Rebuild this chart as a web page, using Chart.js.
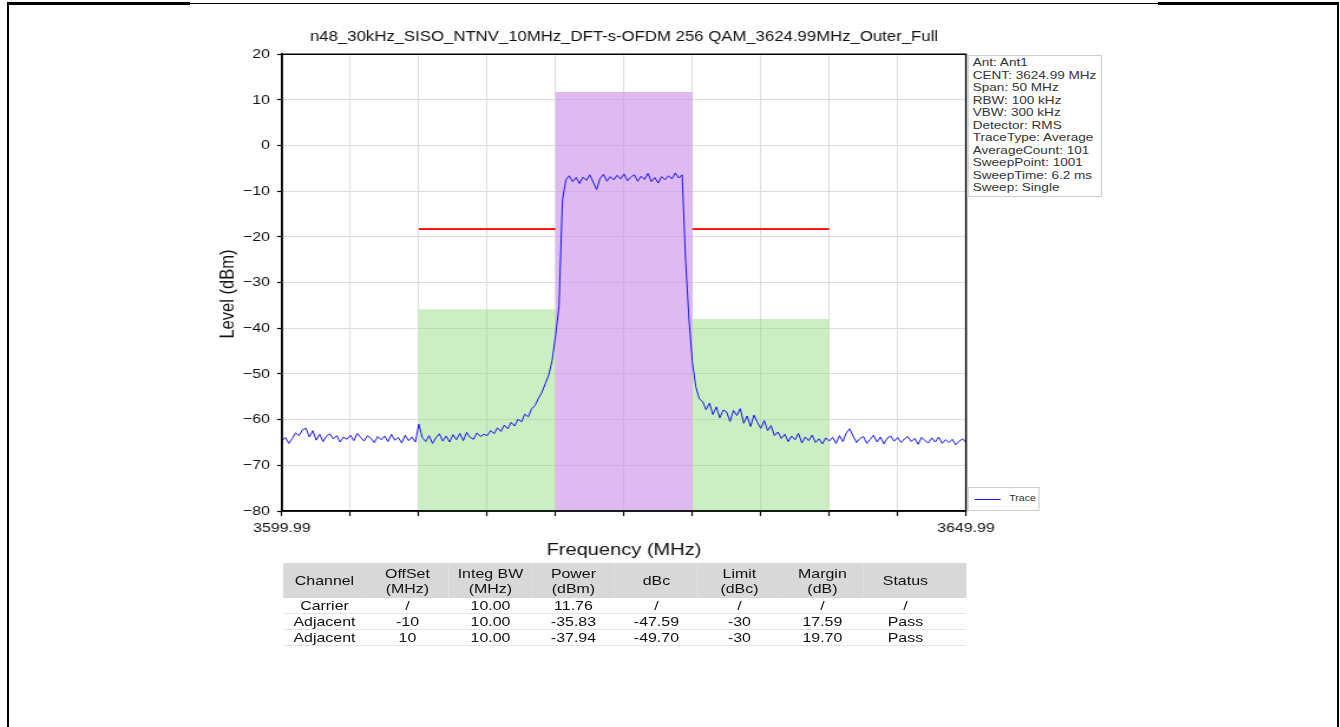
<!DOCTYPE html>
<html>
<head>
<meta charset="utf-8">
<script src="https://cdn.jsdelivr.net/npm/chart.js@4.4.1/dist/chart.umd.min.js"></script>
<style>
  html, body { margin: 0; padding: 0; background: #fff; }
  body { width: 1340px; height: 727px; position: relative; overflow: hidden; font-family: "Liberation Sans", Arial, sans-serif; }
  #wrap { position: absolute; left: 0; top: 0; height: 727px; transform-origin: 0 0; }
  #c { position: absolute; left: 0; top: 0; }
  .frame { position: absolute; background: #000; }
  #info { position: absolute; top: 55px; height: 142px; border: 1px solid #cfcfcf; background: #fff; box-sizing: border-box;
          font-size: 11.5px; line-height: 12.5px; color: #333; padding-left: 3px; white-space: pre; }
  #legend { position: absolute; top: 487px; height: 24px; border: 1px solid #cfcfcf; background: #fff; box-sizing: border-box; }
  #legend .ln { position: absolute; top: 11px; height: 1px; background: #1515f0; }
  #legend .tx { position: absolute; top: 5px; font-size: 9px; color: #333; }
  #tbl { position: absolute; top: 563px; border-collapse: collapse; table-layout: fixed; font-size: 13.5px; color: #111; }
  #tbl th { background: #d8d8d8; font-weight: normal; height: 35px; line-height: 15px; padding: 0; white-space: pre-line; }
  #tbl td { height: 15px; line-height: 15px; padding: 0; text-align: center; border-bottom: 1px solid #e6e6e6; }
</style>
</head>
<body>
<div id="wrap">
  <canvas id="c"></canvas>
  <div id="info"></div>
  <div id="legend"><div class="ln"></div><div class="tx">Trace</div></div>
  <table id="tbl"><thead><tr></tr></thead><tbody></tbody></table>
</div>
<div class="frame" style="left:7px;top:2px;width:2px;height:725px"></div>
<div class="frame" style="left:7px;top:2px;width:183px;height:3px"></div>
<div class="frame" style="left:190px;top:3px;width:968px;height:1px"></div>
<div class="frame" style="left:1158px;top:2px;width:181px;height:3px"></div>
<div class="frame" style="left:1337px;top:2px;width:2px;height:725px"></div>
<script>
// measured trace, one point every 0.25 MHz from 3599.99 MHz
const traceStartMHz = 3599.99;
const traceStepMHz = 0.25;
const traceLevel = [
  -64.6, -63.9, -65.2, -64.1, -62.9, -63.5, -62.2, -61.9, -63.8, -62.4,
  -64.5, -63.2, -64.8, -63.6, -63.1, -64.2, -63.5, -64.9, -63.8, -64.3,
  -63.4, -64.6, -63.0, -63.9, -64.7, -63.5, -64.1, -65.0, -63.7, -64.4,
  -63.6, -64.8, -63.2, -64.5, -63.9, -65.1, -63.4, -64.6, -63.8, -64.9,
  -61.0, -63.9, -64.8, -63.5, -65.2, -64.0, -63.1, -64.7, -63.6, -64.9,
  -63.3, -64.4, -63.0, -64.6, -62.8, -63.9, -64.3, -62.9, -63.7, -63.2,
  -63.5, -62.4, -63.1, -61.8, -62.6, -61.2, -62.0, -60.6, -61.4, -59.9,
  -60.5, -58.8, -59.4, -57.6, -56.9, -55.3, -54.0, -52.1, -50.2, -47.0,
  -41.5, -35.0, -12.0, -7.5, -6.6, -7.9, -7.0, -8.3, -6.9, -7.6,
  -6.4, -8.0, -9.6, -7.2, -6.3, -7.8, -6.8, -7.5, -6.5, -7.3,
  -6.2, -7.7, -6.9, -6.4, -7.8, -6.7, -7.4, -6.1, -7.9, -7.0,
  -8.2, -6.8, -7.5, -6.6, -7.3, -6.0, -7.1, -6.4, -25.0, -38.0,
  -47.5, -52.8, -55.4, -56.1, -57.8, -56.4, -58.9, -57.2, -59.6, -57.9,
  -58.3, -60.4, -58.0, -59.1, -57.6, -60.8, -59.2, -61.5, -59.0, -60.6,
  -61.9, -60.2, -62.4, -61.3, -63.5, -62.7, -64.1, -63.2, -64.8, -63.6,
  -64.4, -63.0, -65.1, -63.8, -64.6, -63.4, -65.0, -64.2, -65.3, -64.0,
  -64.7, -63.9, -65.2, -63.5, -64.8, -62.9, -62.0, -63.6, -65.0, -64.1,
  -63.7, -65.2, -64.3, -63.4, -64.9, -63.8, -65.3, -64.0, -63.6, -64.7,
  -63.9, -65.0, -64.2, -63.7, -64.8, -64.1, -65.4, -63.9, -64.6, -65.1,
  -64.0, -64.9, -63.8, -65.2, -64.4, -65.0, -64.3, -65.5, -64.7, -64.2, -65.0
];

// channel power table
const centerMHz = 3624.99;
const spanMHz = 50;
const channelNames = ['Carrier', 'Adjacent', 'Adjacent'];
const channelOffsetMHz = [0, -10, 10];
const channelBwMHz = [10, 10, 10];
const channelPowerDbm = [11.76, -35.83, -37.94];
const channelDbc = [null, -47.59, -49.70];
const channelLimitDbc = [null, -30, -30];
const channelMarginDb = [null, 17.59, 19.70];
const channelStatus = ['/', 'Pass', 'Pass'];

const tableHeaders = ['Channel', 'OffSet\n(MHz)', 'Integ BW\n(MHz)', 'Power\n(dBm)', 'dBc', 'Limit\n(dBc)', 'Margin\n(dB)', 'Status'];
const infoLines = ['Ant: Ant1', 'CENT: 3624.99 MHz', 'Span: 50 MHz', 'RBW: 100 kHz', 'VBW: 300 kHz', 'Detector: RMS',
  'TraceType: Average', 'AverageCount: 101', 'SweepPoint: 1001', 'SweepTime: 6.2 ms', 'Sweep: Single'];
const xTickValues = [3599.99, 3604.99, 3609.99, 3614.99, 3619.99, 3624.99, 3629.99, 3634.99, 3639.99, 3644.99, 3649.99];
const xTickLabels = ['3599.99', '', '', '', '', '', '', '', '', '', '3649.99'];
const yTickValues = [20, 10, 0, -10, -20, -30, -40, -50, -60, -70, -80];

// the reference image is stretched sideways; draw narrow and stretch the same way
const S = 1.18;
const W = Math.round(1340 / S);
const u = px => px / S;

const wrap = document.getElementById('wrap');
wrap.style.width = W + 'px';
wrap.style.transform = 'scaleX(' + S + ')';
const canvas = document.getElementById('c');
canvas.width = W;
canvas.height = 727;

// info + legend boxes
const info = document.getElementById('info');
info.textContent = infoLines.join('\n');
info.style.left = u(968) + 'px';
info.style.width = u(134) + 'px';
const legend = document.getElementById('legend');
legend.style.left = u(968) + 'px';
legend.style.width = u(72) + 'px';
legend.querySelector('.ln').style.left = u(5) + 'px';
legend.querySelector('.ln').style.width = u(27) + 'px';
legend.querySelector('.tx').style.left = u(40) + 'px';

// table
const tbl = document.getElementById('tbl');
tbl.style.left = u(283) + 'px';
const colW = u(83);
const lastPad = u(19);
const headRow = tbl.querySelector('thead tr');
tableHeaders.forEach((h, i) => {
  const th = document.createElement('th');
  th.textContent = h;
  th.style.width = colW + 'px';
  if (i === tableHeaders.length - 1) th.style.paddingRight = lastPad + 'px';
  headRow.appendChild(th);
});
const fmt = v => v === null ? '/' : v.toFixed(2);
channelNames.forEach((name, i) => {
  const cells = [
    name,
    i === 0 ? '/' : String(channelOffsetMHz[i]),
    channelBwMHz[i].toFixed(2),
    channelPowerDbm[i].toFixed(2),
    fmt(channelDbc[i]),
    channelLimitDbc[i] === null ? '/' : String(channelLimitDbc[i]),
    fmt(channelMarginDb[i]),
    channelStatus[i]
  ];
  const tr = document.createElement('tr');
  cells.forEach((c, j) => {
    const td = document.createElement('td');
    td.textContent = c;
    if (j === cells.length - 1) td.style.paddingRight = lastPad + 'px';
    tr.appendChild(td);
  });
  tbl.querySelector('tbody').appendChild(tr);
});

// datasets
const tracePoints = traceLevel.map((y, i) => ({ x: traceStartMHz + i * traceStepMHz, y: y }));
const carrierPower = channelPowerDbm[0];
const limitPoints = [];
const barSets = [];
channelNames.forEach((name, i) => {
  const lo = centerMHz + channelOffsetMHz[i] - channelBwMHz[i] / 2;
  const hi = centerMHz + channelOffsetMHz[i] + channelBwMHz[i] / 2;
  if (channelLimitDbc[i] !== null) {
    const lim = carrierPower + channelLimitDbc[i];
    limitPoints.push({ x: lo, y: lim }, { x: hi, y: lim }, { x: hi, y: null });
  }
  barSets.push({
    label: name + ' ' + i,
    data: [{ x: lo, y: channelPowerDbm[i] }, { x: hi, y: channelPowerDbm[i] }],
    borderWidth: 0,
    pointRadius: 0,
    fill: 'start',
    backgroundColor: i === 0 ? 'rgba(200,140,230,0.6)' : 'rgba(140,220,120,0.45)'
  });
});

const FONT = "'Liberation Sans', Arial, sans-serif";

const boxPlugin = {
  id: 'box',
  afterDatasetsDraw(chart) {
    const { ctx, chartArea: a } = chart;
    ctx.save();
    ctx.strokeStyle = '#000';
    ctx.lineWidth = 1.5;
    ctx.strokeRect(a.left, a.top, a.right - a.left, a.bottom - a.top);
    ctx.restore();
  }
};

new Chart(canvas, {
  type: 'line',
  data: {
    datasets: [
      { label: 'Trace', data: tracePoints, borderColor: '#1515f0', borderWidth: 1, pointRadius: 0, tension: 0, fill: false },
      { label: 'Limit', data: limitPoints, borderColor: '#ff1a1a', borderWidth: 2, pointRadius: 0, spanGaps: false, fill: false },
      ...barSets
    ]
  },
  options: {
    responsive: false,
    animation: false,
    events: [],
    layout: { padding: { left: u(200), right: W - u(966), top: 0, bottom: 727 - 511 - 52 } },
    plugins: {
      legend: { display: false },
      tooltip: { enabled: false },
      title: {
        display: true,
        fullSize: false,
        text: 'n48_30kHz_SISO_NTNV_10MHz_DFT-s-OFDM 256 QAM_3624.99MHz_Outer_Full',
        color: '#111',
        font: { family: FONT, size: 14.2, weight: 'normal' },
        padding: { top: 29, bottom: 8.2 }
      }
    },
    scales: {
      x: {
        type: 'linear',
        min: traceStartMHz,
        max: traceStartMHz + spanMHz,
        afterBuildTicks: axis => { axis.ticks = xTickValues.map(v => ({ value: v })); },
        afterFit: axis => { axis.height = 52; },
        ticks: {
          autoSkip: false,
          maxRotation: 0,
          padding: 4,
          color: '#111',
          font: { family: FONT, size: 13.5 },
          callback: (v, i) => xTickLabels[i]
        },
        grid: { color: '#dcdcdc', lineWidth: 1, tickColor: '#000', tickLength: 5, tickWidth: 1.2 },
        border: { color: '#000', width: 1.5 },
        title: {
          display: true, text: 'Frequency (MHz)', color: '#111',
          font: { family: FONT, size: 17 }, padding: { top: 0, bottom: 2 }
        }
      },
      y: {
        min: -80,
        max: 20,
        afterBuildTicks: axis => { axis.ticks = yTickValues.map(v => ({ value: v })); },
        afterFit: axis => { axis.width = u(282) - u(200); },
        ticks: {
          padding: 6,
          color: '#111',
          font: { family: FONT, size: 13.5 },
          callback: v => String(v).replace('-', '\u2212')
        },
        grid: { color: '#dcdcdc', lineWidth: 1, tickColor: '#000', tickLength: 4.2, tickWidth: 1.2 },
        border: { color: '#000', width: 1.5 },
        title: {
          display: true, text: 'Level (dBm)     ', color: '#111',
          font: { family: FONT, size: 16.5 }, padding: { top: 13.8, bottom: 0 }
        }
      }
    }
  },
  plugins: [boxPlugin]
});
</script>
</body>
</html>
